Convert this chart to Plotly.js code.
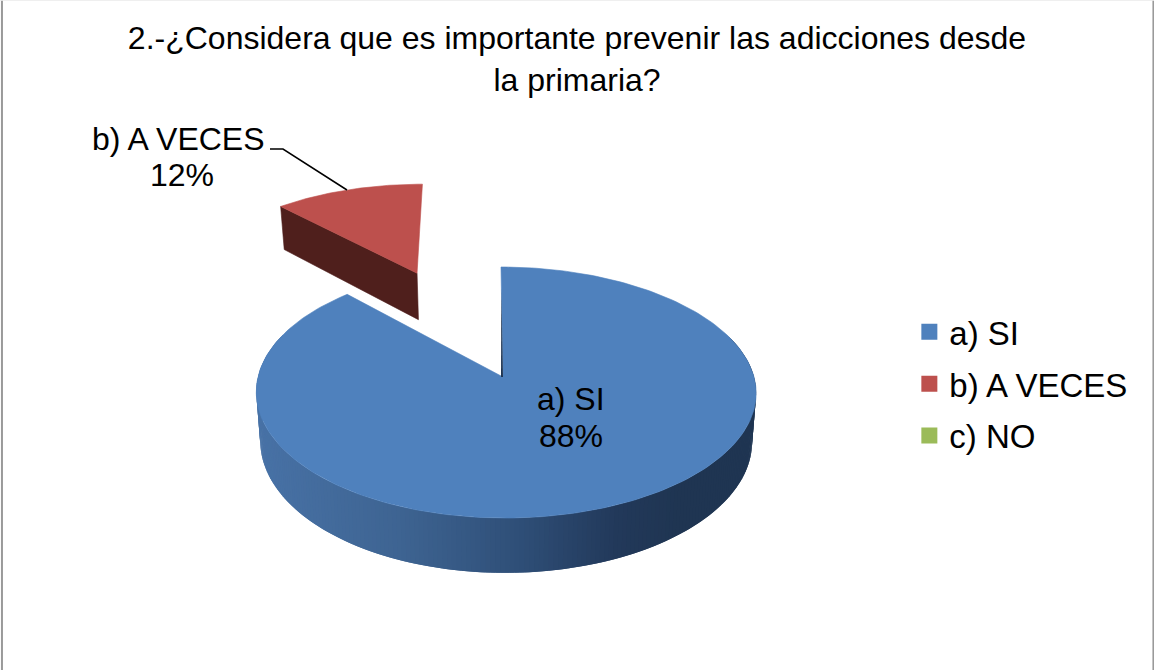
<!DOCTYPE html>
<html>
<head>
<meta charset="utf-8">
<script src="https://cdn.plot.ly/plotly-3.0.0.min.js"></script>
<style>html,body{margin:0;padding:0;background:#fff}#chart{width:1154px;height:670px}</style>
</head>
<body>
<div id="chart"></div>
<script>
// --- data ---
const categories = ['a) SI', 'b) A VECES', 'c) NO'];
const shares = [88, 12, 0];
const titleLines = ['2.-¿Considera que es importante prevenir las adicciones desde', 'la primaria?'];

// --- styling / projection constants ---
const FONT = 'Liberation Sans, Arial, sans-serif';
const topColors = ['#4f81bd', '#bd504d', '#9bbb59'];
const RED_SIDE = '#4f1f1c';
const P = {cx: 503, cy: 377, A: 248, B: 123.6, k: 0.1236, depth: 48, shrink: 0.984, bow: 3, lean: 2};
const EXPLODE = 1.03;
const sideStops = [[256,[72,114,166]],[400,[62,100,146]],[520,[47,79,120]],[620,[34,57,90]],[680,[31,53,82]],[760,[31,53,82]]];

function project(u, v, lower, slice) {
  const w = 1 + P.k * v;
  const bow = slice ? 0 : P.bow * u * u;
  const depth = slice ? slice.depth : P.depth;
  const lean = slice ? slice.lean : P.lean;
  let X = P.cx + P.A * u / w + bow - lean * v, Y = P.cy - P.B * v / w;
  if (lower) { X = P.cx + (X - P.cx) * P.shrink; Y += depth / w; }
  if (slice) { Y += slice.dy; X += slice.dx; }
  return [X, Y];
}
function rim(a0, a1, off, lower, n, slice) {
  const pts = [];
  for (let i = 0; i <= n; i++) {
    const a = (a0 + (a1 - a0) * i / n) * Math.PI / 180;
    pts.push(project(off[0] + Math.sin(a), off[1] + Math.cos(a), lower, slice));
  }
  return pts;
}
function poly(pts, color, width) {
  return {
    type: 'scatter', mode: 'lines', x: pts.map(p => p[0]), y: pts.map(p => p[1]),
    fill: 'toself', fillcolor: color, line: {color: color, width: width === undefined ? 0.6 : width},
    hoverinfo: 'skip', showlegend: false
  };
}
function sideColor(x) {
  for (let i = 1; i < sideStops.length; i++) {
    if (x <= sideStops[i][0]) {
      const [x0, c0] = sideStops[i - 1], [x1, c1] = sideStops[i];
      const t = Math.max(0, (x - x0) / (x1 - x0));
      return 'rgb(' + c0.map((c, j) => Math.round(c + (c1[j] - c) * t)).join(',') + ')';
    }
  }
  return 'rgb(31,53,82)';
}

const total = shares.reduce((a, b) => a + b, 0);
const sweepA = shares[0] / total * 360;
const sweepB = shares[1] / total * 360;
const traces = [];

// blue wall, drawn as thin overlapping strips for the shading
const STEP = 1;
for (let a = 70; a < 290; a += STEP) {
  const up = rim(a, a + STEP * 2, [0, 0], false, 1);
  const lo = rim(a, a + STEP * 2, [0, 0], true, 1);
  traces.push(poly([up[0], up[1], lo[1], lo[0], up[0]], sideColor(up[0][0]), 0));
}
// blue top
const apex = project(0, 0);
const blueTop = [apex].concat(rim(0, sweepA, [0, 0], false, 240));
blueTop.push(apex);
traces.push(poly(blueTop, topColors[0]));
// dark sliver along the start edge of the blue slice
const s0 = project(0, 1);
traces.push(poly([[s0[0] + (apex[0] - s0[0]) * 0.2, s0[1] + (apex[1] - s0[1]) * 0.2], apex, [apex[0] - 2, apex[1]]], '#1f3552', 0));

// exploded red slice
const mid = -sweepB / 2 * Math.PI / 180;
const off = [EXPLODE * Math.sin(mid), EXPLODE * Math.cos(mid)];
const SL = {depth: 52, dy: 2, dx: 1, lean: 3};
const arc = rim(-sweepB, 0, off, false, 60, SL);
const apexUp = project(off[0], off[1], false, SL), apexLo = project(off[0], off[1], true, SL);
const leftUp = arc[0], leftLo = rim(-sweepB, -sweepB, off, true, 1, SL)[0];
traces.push(poly([apexUp, leftUp, leftLo, apexLo, apexUp], RED_SIDE));
traces.push(poly([apexUp].concat(arc).concat([apexUp]), topColors[1]));

// leader line of the red label
traces.push({type: 'scatter', mode: 'lines', x: [270, 283, 347], y: [149, 149, 190],
  line: {color: '#000', width: 1.5}, hoverinfo: 'skip', showlegend: false});

// legend entries
categories.forEach((name, i) => traces.push({
  type: 'scatter', mode: 'markers', x: [null], y: [null], name: name, legendgroup: name,
  marker: {symbol: 'square', size: 17, color: topColors[i]}, hoverinfo: 'skip'
}));

const label = (text, x, y) => ({text, x, y, xref: 'x', yref: 'y', showarrow: false,
  xanchor: 'center', yanchor: 'middle', font: {family: FONT, size: 32, color: '#000'}});

const layout = {
  width: 1154, height: 670, margin: {l: 0, r: 0, t: 0, b: 0},
  paper_bgcolor: '#fff', plot_bgcolor: '#fff',
  title: {text: titleLines.join('<br>'), x: 0.5, xanchor: 'center', y: 0.927, yanchor: 'top',
    font: {family: FONT, size: 32, color: '#000'}},
  xaxis: {range: [0, 1154], visible: false, fixedrange: true},
  yaxis: {range: [670, 0], visible: false, fixedrange: true},
  legend: {x: 0.788, y: 0.5465, xanchor: 'left', yanchor: 'top', tracegroupgap: 6,
    bgcolor: 'rgba(0,0,0,0)', font: {family: FONT, size: 33, color: '#000'}},
  annotations: [
    label(categories[0], 571, 399), label(shares[0] + '%', 571, 436),
    label(categories[1], 178, 139), label(shares[1] + '%', 182, 175)
  ],
  shapes: [
    {type: 'line', xref: 'paper', yref: 'paper', x0: 0.0017, x1: 0.0017, y0: 0, y1: 1, line: {color: '#9a9a9a', width: 2}},
    {type: 'line', xref: 'paper', yref: 'paper', x0: 0.9995, x1: 0.9995, y0: 0, y1: 1, line: {color: '#9a9a9a', width: 2}},
    {type: 'line', xref: 'paper', yref: 'paper', x0: 0, x1: 1, y0: 0.9995, y1: 0.9995, line: {color: '#ececec', width: 1}}
  ]
};
Plotly.newPlot('chart', traces, layout, {displayModeBar: false, staticPlot: true});
</script>
</body>
</html>
